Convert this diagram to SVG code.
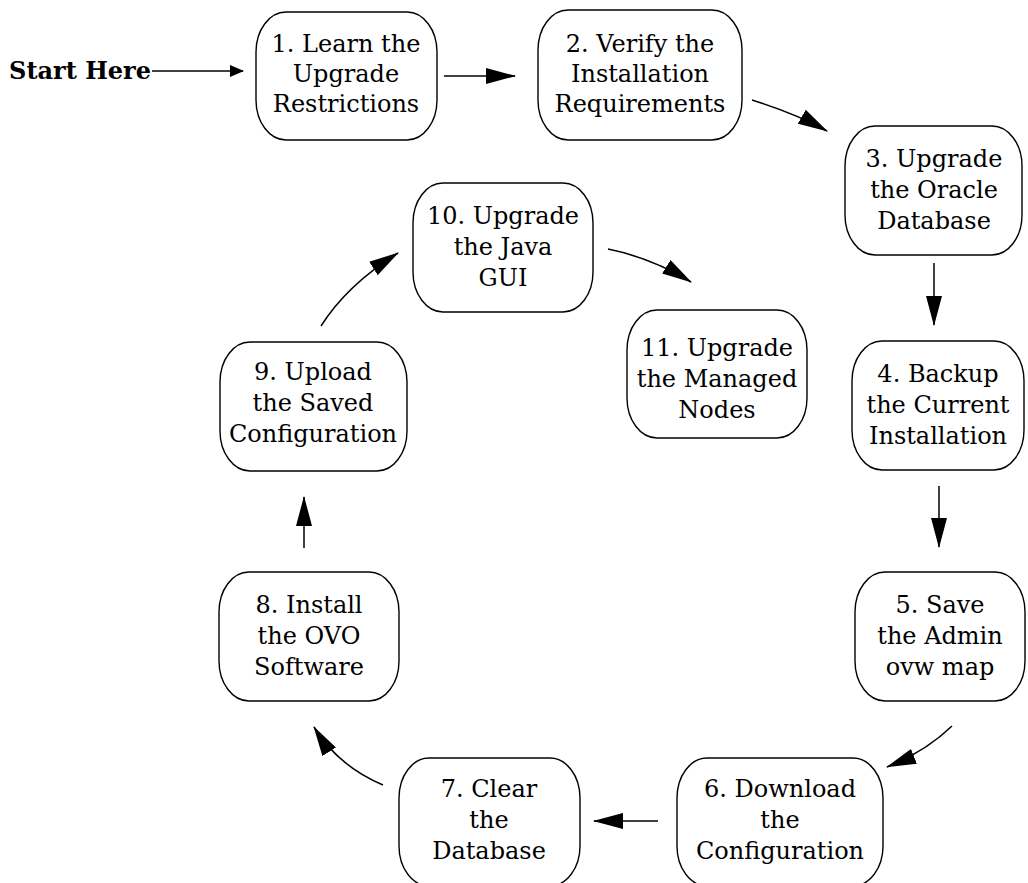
<svg xmlns="http://www.w3.org/2000/svg" width="1028" height="883" viewBox="0 0 1028 883">
<defs>
<style>
.n rect{fill:#fff;stroke:#000;stroke-width:1.4}
.n text{font-family:"DejaVu Serif","Liberation Serif",serif;font-size:24px;text-anchor:middle;fill:#000}
.e{fill:none;stroke:#000;stroke-width:1.5}
.start{font-family:"DejaVu Serif","Liberation Serif",serif;font-size:24px;font-weight:bold;text-anchor:end;fill:#000}
</style>
<marker id="big" markerUnits="userSpaceOnUse" markerWidth="30" markerHeight="16" refX="29" refY="8" orient="auto">
<path d="M0,0 L30,8 L0,16 z" fill="#000"/>
</marker>
<marker id="small" markerUnits="userSpaceOnUse" markerWidth="14" markerHeight="12" refX="13" refY="6" orient="auto">
<path d="M0,0 L14,6 L0,12 z" fill="#000"/>
</marker>
</defs>
<rect width="1028" height="883" fill="#fff"/>
<text class="start" x="151" y="79">Start Here</text>
<g id="connectors">
<path class="e" d="M152,71 L243,71" marker-end="url(#small)"/>
<path class="e" d="M444,76 L515,76" marker-end="url(#big)"/>
<path class="e" d="M752,100 Q797,114 827,131" marker-end="url(#big)"/>
<path class="e" d="M934,263 L934,325" marker-end="url(#big)"/>
<path class="e" d="M939,486 L939,547" marker-end="url(#big)"/>
<path class="e" d="M952,726 Q925,752 887,767" marker-end="url(#big)"/>
<path class="e" d="M658,821 L594,821" marker-end="url(#big)"/>
<path class="e" d="M383,785 Q338,766 314,727" marker-end="url(#big)"/>
<path class="e" d="M304,548 L304,497" marker-end="url(#big)"/>
<path class="e" d="M321,326 Q347,285 398,253" marker-end="url(#big)"/>
<path class="e" d="M608,249 Q652,258 691,282" marker-end="url(#big)"/>
</g>
<g id="n1" class="n"><rect x="256" y="12" width="181" height="128" rx="30" ry="40"/>
<text x="346" y="52">1. Learn the</text><text x="346" y="82">Upgrade</text><text x="346" y="112">Restrictions</text></g>
<g id="n2" class="n"><rect x="538" y="10" width="204" height="130" rx="30" ry="40"/>
<text x="640" y="52">2. Verify the</text><text x="640" y="82">Installation</text><text x="640" y="112">Requirements</text></g>
<g id="n3" class="n"><rect x="845" y="126" width="177" height="129" rx="30" ry="40"/>
<text x="934" y="167">3. Upgrade</text><text x="934" y="198">the Oracle</text><text x="934" y="229">Database</text></g>
<g id="n4" class="n"><rect x="852" y="341" width="172" height="129" rx="30" ry="40"/>
<text x="938" y="382">4. Backup</text><text x="938" y="413">the Current</text><text x="938" y="444">Installation</text></g>
<g id="n5" class="n"><rect x="855" y="572" width="170" height="129" rx="30" ry="40"/>
<text x="940" y="613">5. Save</text><text x="940" y="644">the Admin</text><text x="940" y="675">ovw map</text></g>
<g id="n6" class="n"><rect x="677" y="758" width="206" height="128" rx="30" ry="40"/>
<text x="780" y="797">6. Download</text><text x="780" y="828">the</text><text x="780" y="859">Configuration</text></g>
<g id="n7" class="n"><rect x="399" y="758" width="181" height="128" rx="30" ry="40"/>
<text x="489" y="797">7. Clear</text><text x="489" y="828">the</text><text x="489" y="859">Database</text></g>
<g id="n8" class="n"><rect x="219" y="572" width="180" height="129" rx="30" ry="40"/>
<text x="309" y="613">8. Install</text><text x="309" y="644">the OVO</text><text x="309" y="675">Software</text></g>
<g id="n9" class="n"><rect x="220" y="342" width="187" height="129" rx="30" ry="40"/>
<text x="313" y="380">9. Upload</text><text x="313" y="411">the Saved</text><text x="313" y="442">Configuration</text></g>
<g id="n10" class="n"><rect x="413" y="183" width="180" height="129" rx="30" ry="40"/>
<text x="503" y="224">10. Upgrade</text><text x="503" y="255">the Java</text><text x="503" y="286">GUI</text></g>
<g id="n11" class="n"><rect x="627" y="310" width="180" height="128" rx="30" ry="40"/>
<text x="717" y="356">11. Upgrade</text><text x="717" y="387">the Managed</text><text x="717" y="418">Nodes</text></g>
</svg>
